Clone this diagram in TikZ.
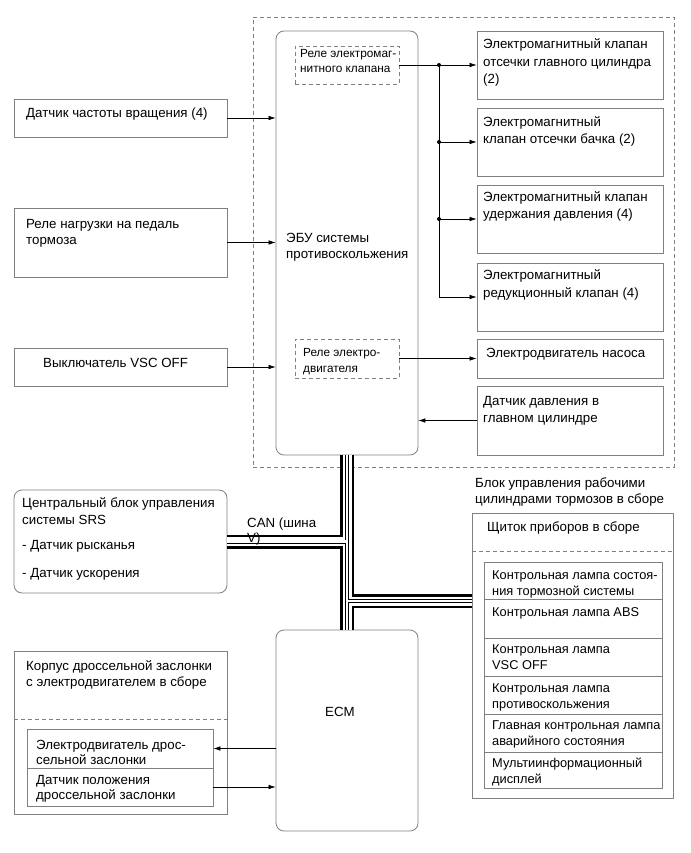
\documentclass[tikz,border=0pt]{standalone}
\usepackage{fontspec}
\setmainfont{Liberation Sans}
\usetikzlibrary{arrows.meta,fit}
\definecolor{boxgray}{gray}{0.5}
\newcommand\fmain{\fontsize{13.3}{17}\selectfont}
\newcommand\fsz[1]{\fontsize{13.3}{#1}\selectfont}
\newcommand\fsmall{\fontsize{11.8}{15.5}\selectfont}
\newcommand\fclu{\fontsize{12.8}{16}\selectfont}
\newcommand\ml[1]{\begin{tabular}[t]{@{}l@{}}#1\end{tabular}}
\newcommand\canlayer[1]{%
  \draw[#1] (ecu.south) -- (ecm.north);
  \draw[#1] (srs.east) -- (srs.east -| ecu.south);
  \draw[#1] (canr -| ecu.south) -- (canr);}
\begin{document}
\begin{tikzpicture}[x=1pt,y=-1pt,
  bx/.style={draw=boxgray,line width=0.8pt,inner sep=0pt},
  dbx/.style={bx,dash pattern=on 4pt off 3pt},
  dln/.style={draw=boxgray,line width=0.8pt,dash pattern=on 4pt off 3pt},
  txt/.style={anchor=base west,inner sep=0pt,font=\fmain},
  arr/.style={draw=black,line width=0.6pt,-{Latex[length=7pt,width=4.5pt]}},
  dotf/.style={fill=black}]
\useasboundingbox (0,0) rectangle (690,853);

% outer dashed group
\node[dbx,fit={(253,17)(674,467)}] (abs) {};
% ECU
\node[bx,rounded corners=8pt,fit={(276,31)(418,455)}] (ecu) {};
\node[txt,font=\fsz{15.5}] (ecut) at (286,242.5) {\ml{ЭБУ системы\\противоскольжения}};
% relays
\node[dbx,fit={(295,46)(399,84)}] (rel1) {};
\node[txt,font=\fsmall] (rel1t) at (300,57.5) {\ml{Реле электромаг-\\нитного клапана}};
\node[dbx,fit={(295,339)(399,378)}] (rel2) {};
\node[txt,font=\fsmall] (rel2t) at (303,356.5) {\ml{Реле электро-\\двигателя}};

% right boxes
\node[bx,fit={(477,31)(663,99)}] (r1) {};
\node[txt,font=\fsz{17.5}] (r1t) at (483,49) {\ml{Электромагнитный клапан\\отсечки главного цилиндра\\(2)}};
\node[bx,fit={(477,108)(663,176)}] (r2) {};
\node[txt] (r2t) at (483,126.5) {\ml{Электромагнитный\\клапан отсечки бачка (2)}};
\node[bx,fit={(477,185)(663,253)}] (r3) {};
\node[txt,font=\fsz{16.5}] (r3t) at (483,201.5) {\ml{Электромагнитный клапан\\удержания давления (4)}};
\node[bx,fit={(477,263)(663,331)}] (r4) {};
\node[txt,font=\fsz{17.5}] (r4t) at (483,279.5) {\ml{Электромагнитный\\редукционный клапан (4)}};
\node[bx,fit={(477,339)(663,378)}] (r5) {};
\node[txt] (r5t) at (486,357.5) {Электродвигатель насоса};
\node[bx,fit={(477,386)(663,455)}] (r6) {};
\node[txt,font=\fsz{16.5}] (r6t) at (483,405.5) {\ml{Датчик давления в\\главном цилиндре}};

% left boxes
\node[bx,fit={(14,99)(227,137)}] (l1) {};
\node[txt] (l1t) at (26,117.5) {Датчик частоты вращения (4)};
\node[bx,fit={(14,208)(227,277)}] (l2) {};
\node[txt,font=\fsz{16}] (l2t) at (26,228.5) {\ml{Реле нагрузки на педаль\\тормоза}};
\node[bx,fit={(14,348)(227,386)}] (l3) {};
\node[txt] (l3t) at (43,367.5) {Выключатель VSC OFF};

% SRS
\node[bx,rounded corners=8pt,fit={(14,490)(227,593)}] (srs) {};
\node[txt,font=\fsz{17.3}] (srst) at (22,507.5) {\ml{Центральный блок управления\\системы SRS\\[7.5pt]- Датчик рысканья\\[10.5pt]- Датчик ускорения}};

% ECM
\node[bx,rounded corners=8pt,fit={(276,630)(418,831)}] (ecm) {};
\node[inner sep=0pt,font=\fmain] (ecmt) at (340,712) {ECM};

% throttle body
\node[bx,fit={(14,651)(227,814)}] (thr) {};
\node[txt,font=\fsz{16}] (thrt) at (26,670.5) {\ml{Корпус дроссельной заслонки\\с электродвигателем в сборе}};
\draw[dln] (thr.west |- 0,719) -- (thr.east |- 0,719);
\node[bx,fit={(27,729)(213,768)}] (t1) {};
\node[txt,font=\fsz{14.5}] (t1t) at (36,749.5) {\ml{Электродвигатель дрос-\\сельной заслонки}};
\node[bx,fit={(27,768)(213,806)}] (t2) {};
\node[txt,font=\fsz{15}] (t2t) at (36,784.5) {\ml{Датчик положения\\дроссельной заслонки}};

% cluster
\node[txt,font=\fsz{16}] (blk) at (475,487.5) {\ml{Блок управления рабочими\\цилиндрами тормозов в сборе}};
\node[bx,fit={(472,513)(673,798)}] (clu) {};
\node[txt] (clut) at (487,531.5) {Щиток приборов в сборе};
\draw[dln] (clu.west |- 0,551) -- (clu.east |- 0,551);
\node[bx,fit={(484,562)(662,599)}] (c1) {};
\node[bx,fit={(484,599)(662,638)}] (c2) {};
\node[bx,fit={(484,638)(662,676)}] (c3) {};
\node[bx,fit={(484,676)(662,714)}] (c4) {};
\node[bx,fit={(484,714)(662,752)}] (c5) {};
\node[bx,fit={(484,752)(662,788)}] (c6) {};
\node[txt,font=\fclu] (c1t) at (492,579.5) {\ml{Контрольная лампа состоя-\\ния тормозной системы}};
\node[txt,font=\fclu] (c2t) at (492,616.5) {Контрольная лампа ABS};
\node[txt,font=\fclu] (c3t) at (492,653.5) {\ml{Контрольная лампа\\VSC OFF}};
\node[txt,font=\fclu] (c4t) at (492,692.5) {\ml{Контрольная лампа\\противоскольжения}};
\node[txt,font=\fclu] (c5t) at (492,729.5) {\ml{Главная контрольная лампа\\аварийного состояния}};
\node[txt,font=\fclu] (c6t) at (492,767.5) {\ml{Мультиинформационный\\дисплей}};

% CAN bus
\coordinate (canr) at (472,601);
\canlayer{black,line width=14pt}
\canlayer{white,line width=9pt}
\canlayer{black,line width=4pt}
\canlayer{white,line width=2.6pt}
\node[txt,font=\fsz{15}] (canl) at (247,527.5) {\ml{CAN (шина\\V)}};

% inputs to ECU
\draw[arr] (l1.east) -- (l1.east -| ecu.west);
\draw[arr] (l2.east) -- (l2.east -| ecu.west);
\draw[arr] (l3.east) -- (l3.east -| ecu.west);
% solenoid relay outputs
\coordinate (bus) at (439,0);
\draw[arr] (rel1.east) -- (r1.west);
\draw[arr] (bus |- r1.west) |- (r4.west);
\draw[arr] (bus |- r2.west) -- (r2.west);
\draw[arr] (bus |- r3.west) -- (r3.west);
\fill[dotf] (bus |- r1.west) circle (2);
\fill[dotf] (bus |- r2.west) circle (2);
\fill[dotf] (bus |- r3.west) circle (2);
% pump motor
\draw[arr] (rel2.east) -- (r5.west);
% pressure sensor
\draw[arr] (r6.west) -- (r6.west -| ecu.east);
% throttle
\draw[arr] (t1.east -| ecm.west) -- (t1.east);
\draw[arr] (t2.east) -- (t2.east -| ecm.west);
\end{tikzpicture}
\end{document}
